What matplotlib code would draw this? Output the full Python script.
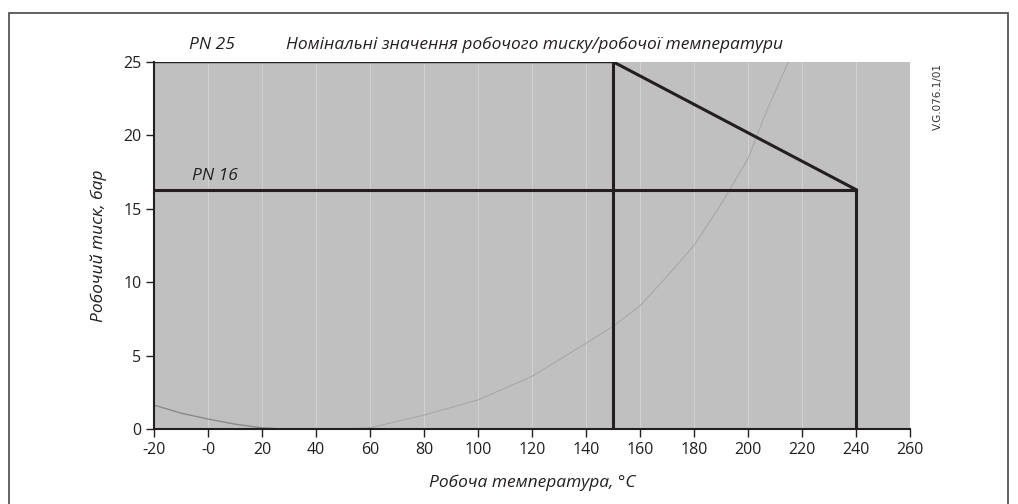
import matplotlib
matplotlib.use('Agg')
import matplotlib.pyplot as plt
from matplotlib.patches import Rectangle

plt.rcParams['font.family'] = ['Open Sans', 'DejaVu Sans']

# rating lines (temperature degC, pressure bar)
pn25_t = [-20, 150, 240]
pn25_p = [25, 25, 16.3]
pn16_t = [-20, 240]
pn16_p = [16.3, 16.3]
limit_t = [150, 240]
limit_p = [25, 16.3]

# faint curves in the background
curve1_t = [-20, -10, 0, 10, 20, 30]
curve1_p = [1.65, 1.1, 0.7, 0.35, 0.1, 0.0]
curve2_t = [45, 60, 80, 100, 120, 140, 150, 160, 170, 180, 190, 200, 207, 215]
curve2_p = [0.0, 0.1, 0.97, 2.0, 3.6, 5.85, 7.0, 8.4, 10.4, 12.5, 15.3, 18.4, 21.7, 25.0]

xticks = list(range(-20, 261, 20))
xlabels = ['-20', '-0'] + [str(t) for t in range(20, 261, 20)]
yticks = [0, 5, 10, 15, 20, 25]

fig = plt.figure(figsize=(10.18, 5.04), dpi=100)
ax = fig.add_axes([154/1018, 1 - 429.3/504, 756/1018, 367.6/504])
ax.set_facecolor('#c0c0c0')
ax.set_xlim(-20, 260)
ax.set_ylim(0, 25)
ax.grid(axis='x', color='#d0d0d0', lw=0.8)
ax.set_axisbelow(True)

ax.plot(curve1_t, curve1_p, color='#8a8a8a', lw=1.0)
ax.plot(curve2_t, curve2_p, color='#a8a8a8', lw=0.8)

black = '#231f20'
ax.plot(pn25_t, pn25_p, color=black, lw=2.2, solid_joinstyle='miter')
ax.plot(pn16_t, pn16_p, color=black, lw=2.2)
for t, p in zip(limit_t, limit_p):
    ax.plot([t, t], [0, p], color=black, lw=2.2)

for s in ['top', 'right']:
    ax.spines[s].set_visible(False)
for s in ['left', 'bottom']:
    ax.spines[s].set_color(black)
    ax.spines[s].set_linewidth(1.5)

ax.set_xticks(xticks)
ax.set_xticklabels(xlabels)
ax.set_yticks(yticks)
ax.tick_params(length=6, width=1, color=black, labelsize=11.5, labelcolor=black, pad=3)

ax.set_xlabel('Робоча температура, °C', fontsize=12.5, style='italic', color=black, labelpad=12)
ax.set_ylabel('Робочий тиск, бар', fontsize=12.5, style='italic', color=black, labelpad=12)

ax.text(-7, 25.6, 'PN 25', fontsize=12.5, style='italic', color=black, ha='left', va='bottom')
ax.text(29, 25.6, 'Номінальні значення робочого тиску/робочої температури',
        fontsize=12.5, style='italic', color=black, ha='left', va='bottom')
ax.text(-6, 16.7, 'PN 16', fontsize=12.5, style='italic', color=black, ha='left', va='bottom')

fig.text(938/1018, 1 - 96/504, 'V.G.076.1/01', rotation=90, fontsize=7.5,
         color='#333333', ha='center', va='center', family='DejaVu Sans')

fig.patches.append(Rectangle((9/1018, -0.1), 999/1018, 1.1 - 13/504, transform=fig.transFigure,
                             fill=False, edgecolor='#555555', lw=1.3))

plt.savefig('out.png', dpi=100)
